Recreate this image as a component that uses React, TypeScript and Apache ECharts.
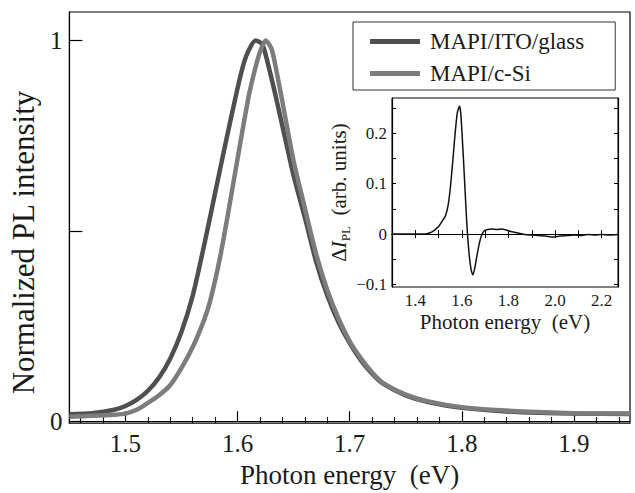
import React, { useEffect, useRef } from "react";
import * as echarts from "echarts";

// ---- Main plot data (normalized PL) ----
const itoEnergy = [1.45, 1.47, 1.49, 1.5, 1.51, 1.52, 1.53, 1.54, 1.55, 1.56, 1.57, 1.58, 1.59, 1.6, 1.605, 1.61, 1.616, 1.622, 1.627, 1.634, 1.64, 1.65, 1.66, 1.67, 1.68, 1.69, 1.7, 1.71, 1.72, 1.73, 1.75, 1.77, 1.8, 1.85, 1.9, 1.95];
const itoIntensity = [0.018, 0.021, 0.03, 0.04, 0.056, 0.08, 0.115, 0.165, 0.235, 0.33, 0.46, 0.6, 0.74, 0.875, 0.935, 0.975, 1.0, 0.99, 0.94, 0.854, 0.775, 0.645, 0.535, 0.42, 0.33, 0.26, 0.205, 0.16, 0.125, 0.098, 0.068, 0.05, 0.035, 0.024, 0.02, 0.019];

const siEnergy = [1.45, 1.47, 1.49, 1.5, 1.51, 1.52, 1.53, 1.54, 1.55, 1.56, 1.57, 1.575, 1.58, 1.585, 1.59, 1.6, 1.61, 1.616, 1.62, 1.625, 1.63, 1.633, 1.639, 1.65, 1.66, 1.67, 1.68, 1.69, 1.7, 1.71, 1.72, 1.73, 1.75, 1.77, 1.8, 1.85, 1.9, 1.95];
const siIntensity = [0.012, 0.014, 0.017, 0.02, 0.03, 0.048, 0.068, 0.095, 0.14, 0.195, 0.265, 0.31, 0.37, 0.44, 0.52, 0.69, 0.855, 0.93, 0.97, 1.0, 0.98, 0.945, 0.854, 0.683, 0.56, 0.44, 0.345, 0.27, 0.21, 0.165, 0.128, 0.1, 0.07, 0.052, 0.037, 0.026, 0.021, 0.02];

// ---- Inset data (ΔI_PL) ----
const insetEnergy = [1.3, 1.35, 1.4, 1.44, 1.46, 1.48, 1.5, 1.52, 1.53, 1.54, 1.55, 1.56, 1.57, 1.58, 1.59, 1.595, 1.6, 1.61, 1.62, 1.63, 1.64, 1.647, 1.655, 1.665, 1.675, 1.685, 1.695, 1.71, 1.73, 1.75, 1.77, 1.79, 1.81, 1.83, 1.85, 1.87, 1.9, 1.93, 1.96, 1.99, 2.02, 2.05, 2.08, 2.11, 2.14, 2.17, 2.2, 2.23, 2.27];
const insetDelta = [0, 0, 0, 0, 0.002, 0.007, 0.015, 0.029, 0.037, 0.055, 0.09, 0.14, 0.195, 0.24, 0.254, 0.24, 0.205, 0.12, 0.03, -0.035, -0.072, -0.081, -0.068, -0.042, -0.018, -0.002, 0.006, 0.009, 0.01, 0.009, 0.01, 0.008, 0.005, 0.003, 0.001, -0.001, -0.002, -0.003, -0.004, -0.006, -0.004, -0.003, -0.002, -0.003, -0.001, -0.002, -0.001, -0.002, -0.001];

// ---- Ticks / labels ----
const mainXMajor = [1.5, 1.6, 1.7, 1.8, 1.9];
const mainXMinor = [1.46, 1.48, 1.52, 1.54, 1.56, 1.58, 1.62, 1.64, 1.66, 1.68, 1.72, 1.74, 1.76, 1.78, 1.82, 1.84, 1.86, 1.88, 1.92, 1.94];
const mainYTicks = [0, 0.5, 1];
const mainYLabels = [0, 1];
const insetXTicks = [1.4, 1.5, 1.6, 1.7, 1.8, 1.9, 2.0, 2.1, 2.2];
const insetXLabels = [1.4, 1.6, 1.8, 2.0, 2.2];
const insetYTicks = [-0.1, -0.05, 0, 0.05, 0.1, 0.15, 0.2, 0.25];
const insetYLabels = [-0.1, 0, 0.1, 0.2];

const seriesNames = ["MAPI/ITO/glass", "MAPI/c-Si"];

const FONT = "Liberation Serif";
const TXT = "#1a1a1a";

export default function App() {
  const ref = useRef<HTMLDivElement>(null);

  useEffect(() => {
    if (!ref.current) return;
    const chart = echarts.init(ref.current, null, { renderer: "svg" });
    const zip = (xs: number[], ys: number[]) => xs.map((x, i) => [x, ys[i]]);
    const axisLine = { show: true, lineStyle: { color: "#000", width: 1.2 } };

    chart.setOption({
      animation: false,
      textStyle: { fontFamily: FONT },
      grid: [
        { left: 68, right: 5, top: 12, bottom: 63, show: true, borderColor: "#000", borderWidth: 1.2, backgroundColor: "transparent" },
        { left: 392, top: 98, width: 226, height: 189, show: true, borderColor: "#000", borderWidth: 1, backgroundColor: "#fff" },
      ],
      legend: {
        data: seriesNames,
        left: 353,
        top: 22,
        orient: "vertical",
        icon: "rect",
        itemWidth: 50,
        itemHeight: 5,
        itemGap: 9,
        padding: [8, 31, 5, 17],
        borderColor: "#333",
        borderWidth: 1,
        backgroundColor: "#fff",
        textStyle: { fontFamily: FONT, fontSize: 23, color: TXT, padding: [0, 0, 0, 5] },
      },
      xAxis: [
        {
          gridIndex: 0, type: "value", min: 1.45, max: 1.95, position: "bottom",
          axisLine,
          axisTick: { show: true, inside: true, length: 10, customValues: mainXMajor, lineStyle: { color: "#000", width: 1.2 } },
          axisLabel: { customValues: mainXMajor, formatter: (v: number) => v.toFixed(1), fontSize: 25, color: TXT, margin: 8, fontFamily: FONT },
          splitLine: { show: false },
          name: "Photon energy  (eV)", nameLocation: "middle", nameGap: 33,
          nameTextStyle: { fontSize: 27, color: TXT, fontFamily: FONT },
        },
        {
          gridIndex: 0, type: "value", min: 1.45, max: 1.95, position: "bottom",
          axisLine: { show: false },
          axisTick: { show: true, inside: true, length: 6, customValues: mainXMinor, lineStyle: { color: "#000", width: 1.1 } },
          axisLabel: { show: false },
          splitLine: { show: false },
        },
        {
          gridIndex: 1, type: "value", min: 1.3, max: 2.27, position: "bottom",
          axisLine,
          axisTick: { show: true, inside: true, length: 4, customValues: insetXTicks, lineStyle: { color: "#000" } },
          axisLabel: { customValues: insetXLabels, formatter: (v: number) => v.toFixed(1), fontSize: 17, color: TXT, margin: 5, fontFamily: FONT },
          splitLine: { show: false },
          name: "Photon energy  (eV)", nameLocation: "middle", nameGap: 24,
          nameTextStyle: { fontSize: 21, color: TXT, fontFamily: FONT },
        },
        {
          gridIndex: 1, type: "value", min: 1.3, max: 2.27, position: "top",
          axisLine,
          axisTick: { show: true, inside: true, length: 4, customValues: insetXTicks, lineStyle: { color: "#000" } },
          axisLabel: { show: false },
          splitLine: { show: false },
        },
      ],
      yAxis: [
        {
          gridIndex: 0, type: "value", min: -0.005, max: 1.075, position: "left",
          axisLine,
          axisTick: { show: true, inside: true, length: 13, customValues: mainYTicks, lineStyle: { color: "#000", width: 1.2 } },
          axisLabel: { customValues: mainYLabels, formatter: (v: number) => String(Math.round(v)), fontSize: 25, color: TXT, margin: 7, fontFamily: FONT },
          splitLine: { show: false },
          name: "Normalized PL intensity", nameLocation: "middle", nameGap: 23,
          nameTextStyle: { fontSize: 31, color: TXT, fontFamily: FONT, padding: [0, 50, 0, 0] },
        },
        {
          gridIndex: 1, type: "value", min: -0.105, max: 0.27, position: "left",
          axisLine,
          axisTick: { show: true, inside: true, length: 4, customValues: insetYTicks, lineStyle: { color: "#000" } },
          axisLabel: {
            customValues: insetYLabels,
            formatter: (v: number) => (Math.abs(v) < 1e-9 ? "0" : v < 0 ? "\u2212" + Math.abs(v).toFixed(1) : v.toFixed(1)),
            fontSize: 17, color: TXT, margin: 5, fontFamily: FONT,
          },
          splitLine: { show: false },
          name: "{d|Δ}{i|I}{s|PL}{n|  (arb. units)}", nameLocation: "middle", nameGap: 33,
          nameTextStyle: {
            fontSize: 21, color: TXT, fontFamily: FONT,
            rich: {
              d: { fontSize: 21, fontFamily: FONT, color: TXT, lineHeight: 26 },
              i: { fontSize: 21, fontFamily: FONT, fontStyle: "italic", color: TXT, lineHeight: 26 },
              s: { fontSize: 13, fontFamily: FONT, color: TXT, lineHeight: 13, verticalAlign: "bottom" },
              n: { fontSize: 21, fontFamily: FONT, color: TXT, lineHeight: 26 },
            },
          },
        },
        {
          gridIndex: 1, type: "value", min: -0.105, max: 0.27, position: "right",
          axisLine,
          axisTick: { show: true, inside: true, length: 4, customValues: insetYTicks, lineStyle: { color: "#000" } },
          axisLabel: { show: false },
          splitLine: { show: false },
        },
      ],
      series: [
        {
          name: seriesNames[0], type: "line", xAxisIndex: 0, yAxisIndex: 0,
          data: zip(itoEnergy, itoIntensity), showSymbol: false, smooth: 0.25,
          lineStyle: { color: "#4f4f4f", width: 4.5 }, itemStyle: { color: "#4f4f4f" }, z: 2,
        },
        {
          name: seriesNames[1], type: "line", xAxisIndex: 0, yAxisIndex: 0,
          data: zip(siEnergy, siIntensity), showSymbol: false, smooth: 0.25,
          lineStyle: { color: "#7c7c7c", width: 4.5 }, itemStyle: { color: "#7c7c7c" }, z: 3,
        },
        {
          name: "inset", type: "line", xAxisIndex: 2, yAxisIndex: 1,
          data: zip(insetEnergy, insetDelta), showSymbol: false, smooth: 0.2,
          lineStyle: { color: "#111", width: 1.5 }, z: 5,
          markLine: {
            silent: true, symbol: "none", label: { show: false },
            lineStyle: { color: "#000", width: 1, type: "solid" },
            data: [{ yAxis: 0 }],
          },
        },
      ],
    });
    return () => chart.dispose();
  }, []);

  return <div ref={ref} style={{ position: "absolute", left: 0, top: 0, width: 635, height: 493, background: "#fff" }} />;
}
